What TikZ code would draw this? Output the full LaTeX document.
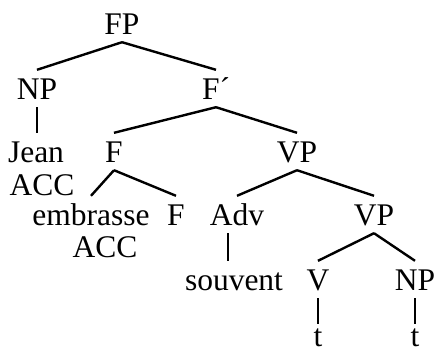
\documentclass[tikz,border=0pt]{standalone}
\usepackage{fontspec}
\setmainfont{Liberation Serif}
\begin{document}
\begin{tikzpicture}[x=1pt,y=-1pt,line width=2.4pt,
  cat/.style={anchor=base,inner sep=7pt,text height=21pt,text depth=0pt,
    font=\fontsize{31.5}{36}\selectfont}]
\useasboundingbox (0,0) rectangle (435,354);
% nodes, placed at their base lines
\node[cat] (fp) at (122,34) {FP};
\node[cat] (np) at (37,99) {NP};
\node[cat] (fbar) at (216,99) {F´};
\node[cat] (jean) at (36,162) {Jean};
\node[cat] (jeanacc) at (42,195) {ACC};
\node[cat] (f) at (114,162) {F};
\node[cat] (vp) at (297,162) {VP};
\node[cat] (embr) at (91,225) {embrasse};
\node[cat] (embracc) at (105,257) {ACC};
\node[cat] (fhead) at (176,225) {F};
\node[cat] (adv) at (237,225) {Adv};
\node[cat] (vplow) at (374,225) {VP};
\node[cat] (souv) at (234,290) {souvent};
\node[cat] (v) at (318,290) {V};
\node[cat] (npobj) at (415,290) {NP};
\node[cat,inner ysep=0pt] (tv) at (318,346) {t};
\node[cat,inner ysep=0pt] (tnp) at (415,346) {t};
% branches
\draw (fp.south) -- (np.north);
\draw (fp.south) -- (fbar.north);
\draw (np.south) -- (np.south |- jean.north);
\draw (fbar.south) -- (f.north);
\draw (fbar.south) -- (vp.north);
\draw (f.south) -- (embr.north);
\draw (f.south) -- (fhead.north);
\draw (vp.south) -- (adv.north);
\draw (vp.south) -- (vplow.north);
\draw ([xshift=-9pt]adv.south) -- ([xshift=-9pt]adv.south |- souv.north);
\draw (vplow.south) -- (v.north);
\draw (vplow.south) -- (npobj.north);
\draw (v.south) -- (tv.north);
\draw (npobj.south) -- (tnp.north);
\end{tikzpicture}
\end{document}
